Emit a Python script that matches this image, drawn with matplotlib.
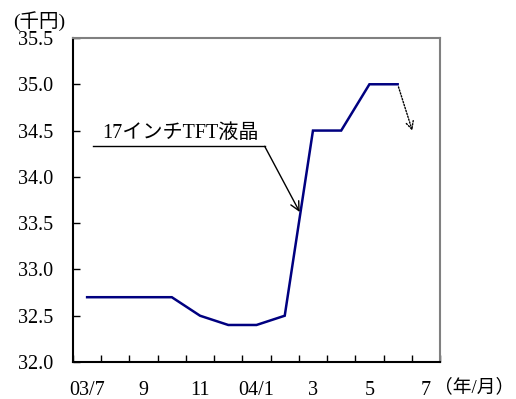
import matplotlib
matplotlib.use("Agg")
import matplotlib.pyplot as plt

plt.rcParams['font.family'] = ['Liberation Serif', 'Noto Sans CJK JP']

months = ["03/7", "8", "9", "10", "11", "12", "04/1", "2", "3", "4", "5", "6", "7"]
tick_labels = ["03/7", "", "9", "", "11", "", "04/1", "", "3", "", "5", "", "7"]
prices = [32.7, 32.7, 32.7, 32.7, 32.5, 32.4, 32.4, 32.5, 34.5, 34.5, 35.0, 35.0]
forecast_end = 34.47
series_label = "17インチTFT液晶"
yticks = [32.0, 32.5, 33.0, 33.5, 34.0, 34.5, 35.0, 35.5]

fig = plt.figure(figsize=(5.16, 3.99), dpi=100)
ax = fig.add_axes([0.1415, 0.0927, 0.7112, 0.8121])

x = list(range(len(prices)))
ax.plot(x, prices, color="#000080", lw=1.8, solid_joinstyle="miter")

# dotted forecast arrow
ax.annotate("", xy=(11.55, forecast_end), xytext=(x[-1], prices[-1]),
            arrowprops=dict(arrowstyle="->", color="black", lw=1.0,
                            linestyle=(0, (1, 1.2)), mutation_scale=14))

# label with underline and arrow
ax.text(0.55, 34.37, series_label, fontsize=14.5, ha="left", va="bottom")
ax.plot([0.21, 6.29], [34.33, 34.33], color="black", lw=1.0)
ax.annotate("", xy=(7.53, 33.62), xytext=(6.29, 34.33),
            arrowprops=dict(arrowstyle="->", color="black", lw=1.0, mutation_scale=16,
                            shrinkA=0, shrinkB=0))

ax.set_xlim(-0.5, 12.5)
ax.set_ylim(32.0, 35.5)
ax.set_xticks(range(len(months)))
ax.set_xticklabels(tick_labels, fontsize=14.5)
ax.set_xticks([i + 0.5 for i in range(-1, 13)], minor=True)
ax.tick_params(axis="x", which="major", length=0, pad=14)
ax.tick_params(axis="x", which="minor", direction="in", length=5, width=1)
ax.set_yticks(yticks)
ax.set_yticklabels([f"{v:.1f}" for v in yticks], fontsize=14.5)
ax.tick_params(axis="y", direction="in", length=5, width=1, pad=14)

for s in ["left", "bottom"]:
    ax.spines[s].set_color("black")
    ax.spines[s].set_linewidth(1.5)
for s in ["top", "right"]:
    ax.spines[s].set_color("#808080")
    ax.spines[s].set_linewidth(1.5)

fig.text(0.025, 0.948, "(千円)", fontsize=14, ha="left", va="center")
fig.text(0.997, 0.03, "（年/月）", fontsize=13.5, ha="right", va="center")

fig.savefig("out.png", dpi=100)
